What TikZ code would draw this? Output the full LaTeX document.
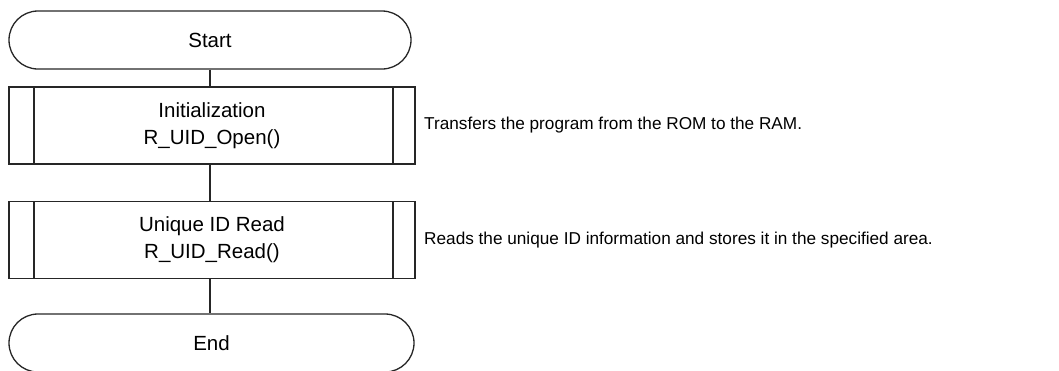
\documentclass[tikz,border=0pt]{standalone}
\usepackage{fontspec}
\setmainfont{Liberation Sans}
\usetikzlibrary{shapes.misc}
\begin{document}
\begin{tikzpicture}[x=1pt,y=-1pt,
  conn/.style={draw=black!85, line width=1.3pt},
  term/.style={rounded rectangle, draw=black!85, line width=1.3pt, minimum height=58pt,
    inner sep=0pt, font=\fontsize{20.5}{27}\selectfont},
  proc/.style={rectangle, draw=black!85, line width=1.3pt, minimum width=406pt, minimum height=77pt,
    align=center, inner sep=0pt, font=\fontsize{20.5}{27}\selectfont,
    path picture={
      \draw[line width=1.3pt,draw=black!85]
        ([xshift=25pt]path picture bounding box.north west) -- ([xshift=25pt]path picture bounding box.south west)
        ([xshift=-22pt]path picture bounding box.north east) -- ([xshift=-22pt]path picture bounding box.south east);
    }},
  desc/.style={anchor=west, inner sep=0pt, font=\fontsize{17.2}{21}\selectfont}
]
\useasboundingbox (0,0) rectangle (1059,370);
\node[term, minimum width=402pt] (start) at (210,40) {Start};
\node[proc] (init) at (212,125.5) {Initialization\\R\_UID\_Open()};
\node[proc] (read) at (212,240) {Unique ID Read\\R\_UID\_Read()};
\node[term, minimum width=405pt] (end) at (211.5,343) {End};
\node[desc] (d1) at (424,125.5) {Transfers the program from the ROM to the RAM.};
\node[desc] (d2) at (424,240.5) {Reads the unique ID information and stores it in the specified area.};
\draw[conn] (start.south) -- (start.south |- init.north);
\draw[conn] (start.south |- init.south) -- (start.south |- read.north);
\draw[conn] (start.south |- read.south) -- (start.south |- end.north);
\end{tikzpicture}
\end{document}
